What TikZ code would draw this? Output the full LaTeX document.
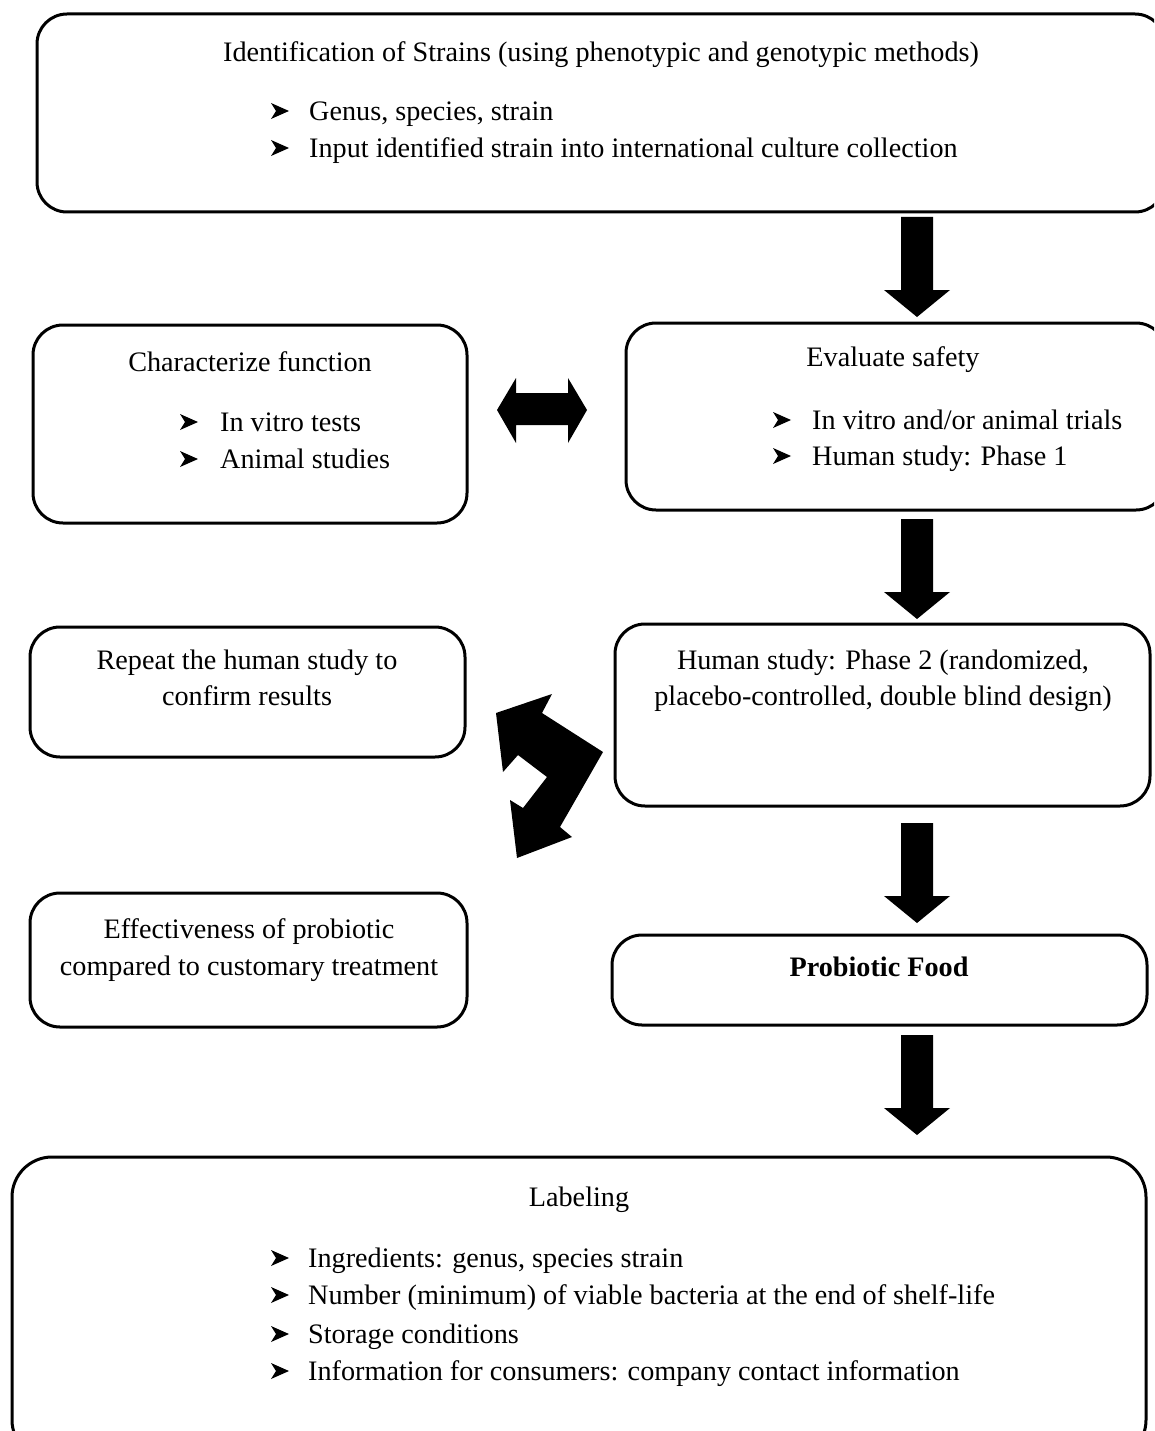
\documentclass[tikz,border=0pt]{standalone}
\usepackage{fontspec}
\setmainfont{Liberation Serif}
\begin{document}
\begin{tikzpicture}[x=1pt,y=-1pt,
  box/.style={draw=black,line width=3pt,rounded corners=30pt},
  bigbox/.style={draw=black,line width=3pt,rounded corners=40pt},
  txt/.style={inner sep=0pt,font=\fontsize{28.2}{37}\selectfont},
]
\useasboundingbox (0,0) rectangle (1154,1431);
\clip (0,0) rectangle (1154,1431);
% boxes
\draw[box] (37,14) rectangle (1165,212);
\draw[box] (33,325) rectangle (467,523);
\draw[box] (626,323) rectangle (1166,510);
\draw[box] (30,627) rectangle (465,757);
\draw[box] (615,624) rectangle (1150,806);
\draw[box] (30,893) rectangle (467,1027);
\draw[box] (612,935) rectangle (1147,1025);
\draw[bigbox] (12,1157) rectangle (1146,1460);
% texts box1
\node[txt,anchor=mid] (t1) at (601,59) {Identification of Strains (using phenotypic and genotypic methods)};
\node[txt,anchor=mid west] (t11) at (309,118) {Genus, species, strain};
\node[txt,anchor=mid west] (t12) at (309,155) {Input identified strain into international culture collection};
% box2
\node[txt,anchor=mid] (t2) at (250,369) {Characterize function};
\node[txt,anchor=mid west] (t21) at (220,429) {In vitro tests};
\node[txt,anchor=mid west] (t22) at (220,466) {Animal studies};
% box3
\node[txt,anchor=mid] (t3) at (893,364) {Evaluate safety};
\node[txt,anchor=mid west] (t31) at (812,427) {In vitro and/or animal trials};
\node[txt,anchor=mid west] (t32) at (812,463) {Human study: Phase 1};
% box4
\node[txt,anchor=mid] (t4a) at (247,667) {Repeat the human study to};
\node[txt,anchor=mid] (t4b) at (247,703) {confirm results};
% box5
\node[txt,anchor=mid] (t5a) at (883,667) {Human study: Phase 2 (randomized,};
\node[txt,anchor=mid] (t5b) at (883,703) {placebo-controlled, double blind design)};
% box6
\node[txt,anchor=mid] (t6a) at (249,936) {Effectiveness of probiotic};
\node[txt,anchor=mid] (t6b) at (249,973) {compared to customary treatment};
% box7
\node[txt,anchor=mid,font=\fontsize{28.2}{37}\selectfont\bfseries] (t7) at (879,974) {Probiotic Food};
% box8
\node[txt,anchor=mid] (t8) at (579,1204) {Labeling};
\node[txt,anchor=mid west] (t81) at (308,1265) {Ingredients: genus, species strain};
\node[txt,anchor=mid west] (t82) at (308,1302) {Number (minimum) of viable bacteria at the end of shelf-life};
\node[txt,anchor=mid west] (t83) at (308,1341) {Storage conditions};
\node[txt,anchor=mid west] (t84) at (308,1378) {Information for consumers: company contact information};
% bullets
\foreach \bx/\by in {280/111,280/148,189/422,189/459,782/420,782/456,280/1258,280/1295,280/1334,280/1371}{
  \fill[shift={(\bx,\by)}] (-9,-8) -- (9,0) -- (-9,8) -- (-4,0) -- cycle;
}
% down arrows
\foreach \n/\yt in {a1/217,a2/519,a3/823,a4/1035}{
  \coordinate (\n) at (917,\yt);
  \fill (\n) ++(-16,0) -- ++(32,0) -- ++(0,73) -- ++(17,0) -- ++(-33,27) -- ++(-33,-27) -- ++(17,0) -- cycle;
}
% double arrow
\fill (497,410) -- (516,378) -- (516,393) -- (568,393) -- (568,378) -- (587,410) -- (568,443) -- (568,425) -- (516,425) -- (516,443) -- cycle;
% bent arrow
\fill (496,713) -- (552,694) -- (542,713) -- (603,752) -- (560,827) -- (572,837) -- (517,858) -- (510,800) -- (523,808) -- (547,777) -- (518,755) -- (503,772) -- cycle;
\end{tikzpicture}
\end{document}
